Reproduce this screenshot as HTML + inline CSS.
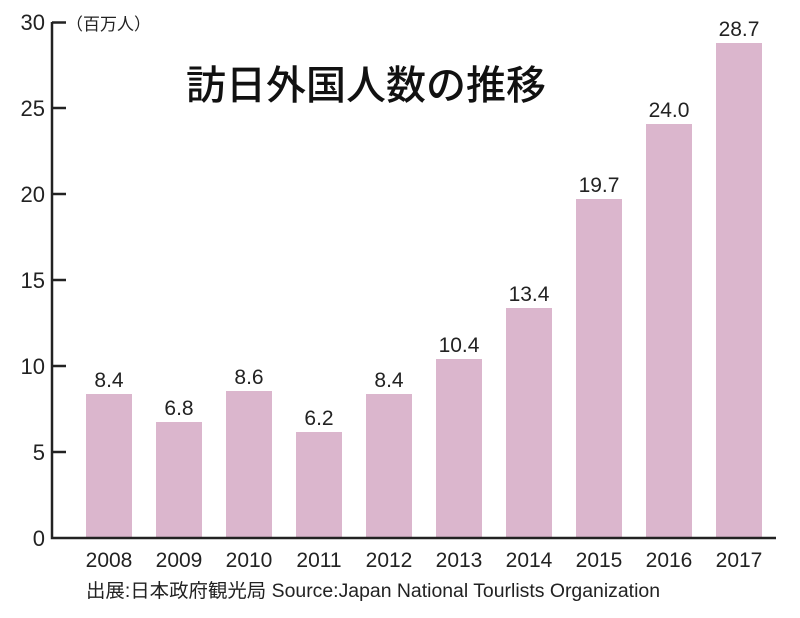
<!DOCTYPE html>
<html><head><meta charset="utf-8"><style>
body{margin:0;background:#fff;width:800px;height:613px;overflow:hidden;font-family:"Liberation Sans","Noto Sans CJK JP",sans-serif;}
</style></head><body>
<svg width="800" height="613" xmlns="http://www.w3.org/2000/svg" font-family="Liberation Sans, Noto Sans CJK JP, sans-serif">
<g fill="#dbb6cd">
<rect x="86" y="394" width="46" height="144"/>
<rect x="156" y="422" width="46" height="116"/>
<rect x="226" y="391" width="46" height="147"/>
<rect x="296" y="432" width="46" height="106"/>
<rect x="366" y="394" width="46" height="144"/>
<rect x="436" y="359" width="46" height="179"/>
<rect x="506" y="308" width="46" height="230"/>
<rect x="576" y="199" width="46" height="339"/>
<rect x="646" y="124" width="46" height="414"/>
<rect x="716" y="43" width="46" height="495"/>
</g>
<g stroke="#222" stroke-width="2.5" fill="none">
<path d="M52 22 V538 H776"/>
<path d="M52 22.5 H66 M52 108 H66 M52 194 H66 M52 280 H66 M52 366 H66 M52 452 H66"/>
</g>
<g font-size="22" fill="#222" text-anchor="end">
<text x="45" y="30">30</text><text x="45" y="116">25</text><text x="45" y="202">20</text>
<text x="45" y="288">15</text><text x="45" y="374">10</text><text x="45" y="460">5</text><text x="45" y="546">0</text>
</g>
<text x="66" y="30" font-size="17" fill="#222">（百万人）</text>
<text x="366" y="99" font-size="40" fill="#111" text-anchor="middle" font-weight="bold" style="font-weight:500">訪日外国人数の推移</text>
<g font-size="21" fill="#222" text-anchor="middle">
<text x="109" y="387">8.4</text><text x="179" y="415">6.8</text><text x="249" y="384">8.6</text>
<text x="319" y="425">6.2</text><text x="389" y="387">8.4</text><text x="459" y="352">10.4</text>
<text x="529" y="301">13.4</text><text x="599" y="192">19.7</text><text x="669" y="117">24.0</text><text x="739" y="36">28.7</text>
</g>
<g font-size="21" fill="#222" text-anchor="middle">
<text x="109" y="567">2008</text><text x="179" y="567">2009</text><text x="249" y="567">2010</text>
<text x="319" y="567">2011</text><text x="389" y="567">2012</text><text x="459" y="567">2013</text>
<text x="529" y="567">2014</text><text x="599" y="567">2015</text><text x="669" y="567">2016</text><text x="739" y="567">2017</text>
</g>
<text x="86" y="597" font-size="19" fill="#222" textLength="574" lengthAdjust="spacingAndGlyphs">出展:日本政府観光局 Source:Japan National Tourlists Organization</text>
</svg>
</body></html>
